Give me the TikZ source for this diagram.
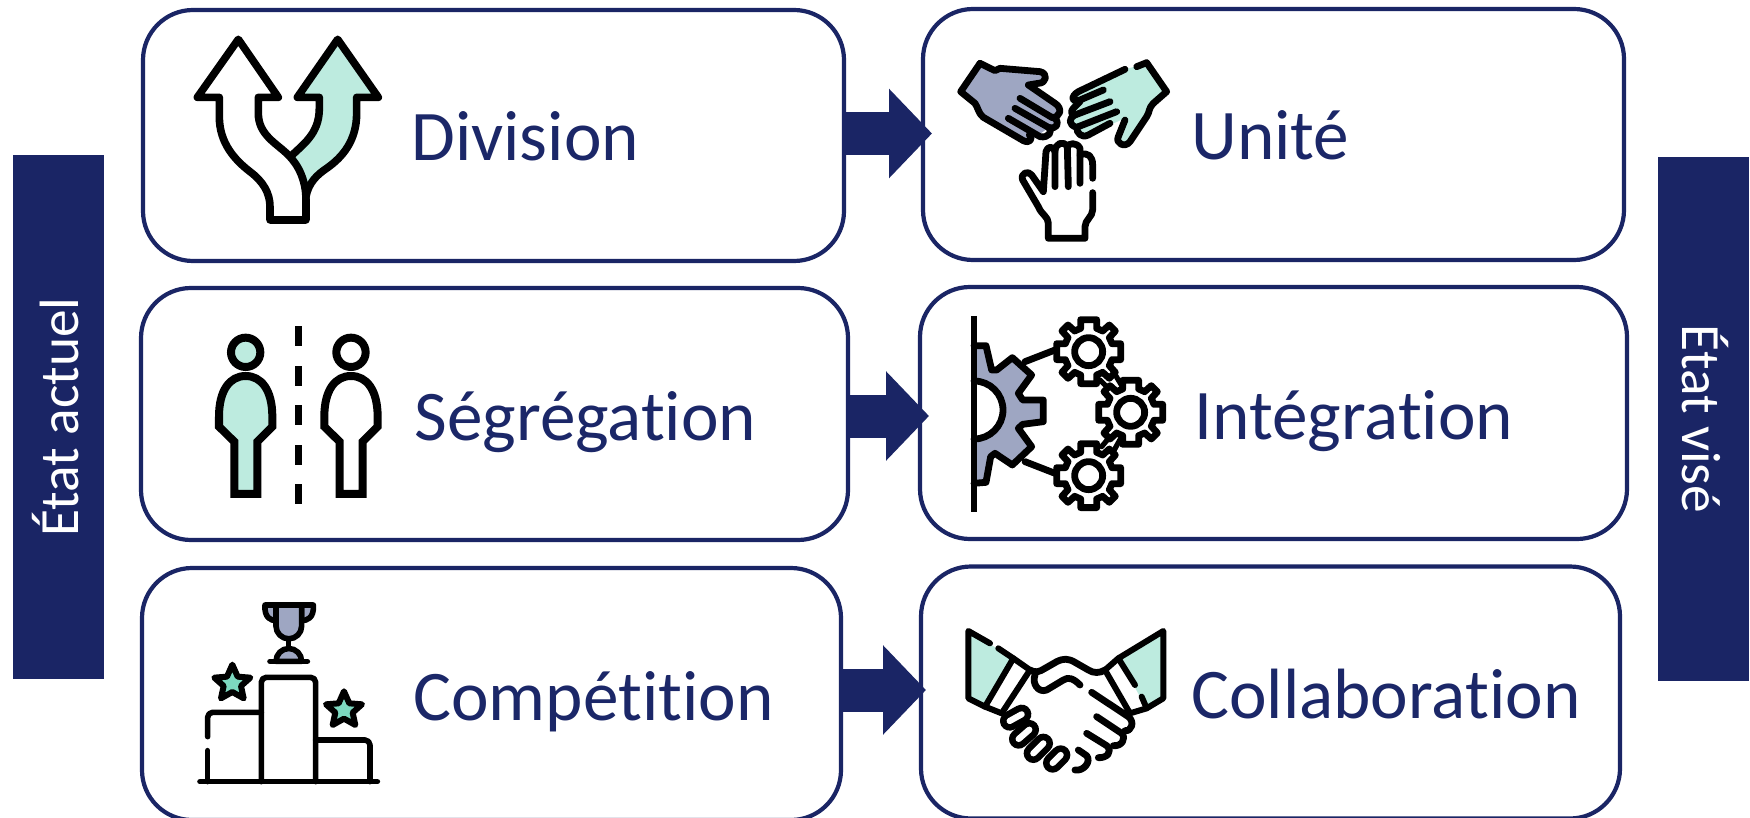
\documentclass[tikz,border=0pt]{standalone}
\usepackage{fontspec}
\setmainfont[Ligatures=NoCommon]{Carlito}
\usetikzlibrary{arrows.meta}
\definecolor{navy}{HTML}{1A2565}
\definecolor{edge}{HTML}{1A2565}
\definecolor{txt}{HTML}{1B2768}
\definecolor{mint}{HTML}{BDEBDF}
\definecolor{slate}{HTML}{9EA6C2}
\definecolor{starc}{HTML}{7DD8C0}
\tikzset{
  x=.5pt,y=-.5pt,
  box/.style={draw=edge,fill=white,line width=2.1pt,rounded corners=25pt,outer sep=0pt,inner sep=0pt},
  bar/.style={fill=navy,draw=none,outer sep=0pt,inner sep=0pt,minimum width=45.5pt,minimum height=262pt},
  lab/.style={anchor=base west,inner sep=0pt,text=txt,font=\fontsize{35.6}{36}\selectfont},
  barlab/.style={text=white,font=\fontsize{27.7}{28}\selectfont,inner sep=0pt},
  flow/.style={draw=navy,line width=21.5pt,-{Triangle[length=21.5pt,width=43.5pt,fill=navy]}},
  ic/.style={draw=black,line width=3.4pt,line join=round,line cap=round},
  gic/.style={draw=black,line width=4pt,line join=miter},
  bumpo/.style={draw=black,line width=9.7pt,line cap=round},
  bumpi/.style={draw=white,line width=3.1pt,line cap=round},
}
\begin{document}
\begin{tikzpicture}
\useasboundingbox (0,0) rectangle (1750,818);
\fill[white] (0,0) rectangle (1750,818);
\node[bar] (left) at (58.5,417) {};
\node[bar] (right) at (1703.5,419) {};
\node[barlab,rotate=90] (leftt) at (56,417) {État actuel};
\node[barlab,rotate=-90] (rightt) at (1705.5,419) {État visé};

\node[box,minimum width=350.5pt,minimum height=125.5pt] (b1) at (493.5,135.5) {};
\node[box,minimum width=353.5pt,minimum height=126pt] (b2) at (494.5,414) {};
\node[box,minimum width=349.5pt,minimum height=126pt] (b3) at (491.5,694) {};
\node[box,minimum width=350.5pt,minimum height=125.5pt] (r1) at (1273.5,134.5) {};
\node[box,minimum width=353.5pt,minimum height=126pt] (r2) at (1273.5,413) {};
\node[box,minimum width=349.5pt,minimum height=126pt] (r3) at (1270.5,692.5) {};

\draw[flow] ([yshift=1pt]b1.east) -- ([xshift=4.5pt,yshift=.5pt]r1.west);
\draw[flow] ([yshift=-1pt]b2.east) -- ([xshift=4.5pt,yshift=-1.5pt]r2.west);
\draw[flow] ([yshift=2pt]b3.east) -- ([xshift=2.5pt,yshift=1.25pt]r3.west);

\node[lab] (t1) at (411,161) {Division};
\node[lab] (t2) at (414,440) {Ségrégation};
\node[lab] (t3) at (413,720) {Compétition};
\node[lab] (t4) at (1191,160) {Unité};
\node[lab] (t5) at (1194,439) {Intégration};
\node[lab] (t6) at (1191,718) {Collaboration};

% --- split arrows
\begin{scope}[shift={(170,20)},scale=.3333]
\draw[ic,line width=3.8pt,fill=mint] (503,58) -- (382,232) -- (448,232) -- (448,265) .. controls (448,345) and (395,375) .. (360,412) -- (408,530) .. controls (415,490) and (440,465) .. (470,445) .. controls (520,410) and (560,360) .. (560,280) -- (560,232) -- (625,232) -- cycle;
\draw[ic,line width=3.8pt,fill=white] (205,58) -- (82,232) -- (148,232) -- (148,290) .. controls (148,370) and (195,420) .. (240,455) .. controls (280,485) and (300,520) .. (300,560) -- (300,600) -- (408,600) -- (408,540) .. controls (408,480) and (385,435) .. (355,405) .. controls (320,370) and (265,345) .. (265,280) -- (265,232) -- (325,232) -- cycle;
\end{scope}

% --- hands
\begin{scope}[shift={(940,40)},scale=.3333]
\fill[slate] (120,70) -- (62,155) -- (105,190) -- (125,230) -- (262,308) -- (345,250) -- (360,215) -- (270,135) -- (310,120) -- (310,95) -- (175,85) -- cycle;
\draw[ic] (120,70) -- (62,155) -- (105,190) .. controls (115,205) and (115,220) .. (130,232) -- (250,302) .. controls (270,312) and (280,295) .. (268,285);
\draw[ic] (120,70) -- (165,92) -- (180,85) -- (300,95) .. controls (325,100) and (320,130) .. (295,130) -- (265,135) -- (345,190) .. controls (370,205) and (360,235) .. (335,232);
\draw[ic] (240,175) -- (335,232) -- (345,235) .. controls (360,250) and (350,270) .. (325,262) -- (225,205);
\draw[ic] (325,262) .. controls (340,275) and (325,295) .. (300,290) -- (205,235);
\fill[mint] (620,70) -- (680,155) -- (640,190) -- (622,225) -- (555,310) -- (530,295) -- (555,235) -- (430,290) -- (395,250) -- (395,170) -- (555,88) -- cycle;
\draw[ic] (590,80) -- (620,68) -- (680,155) -- (640,190) .. controls (625,205) and (630,215) .. (620,230) -- (570,305) .. controls (555,325) and (525,310) .. (535,290) -- (555,240);
\draw[ic] (555,88) -- (415,155) .. controls (390,170) and (395,190) .. (420,180) -- (490,150);
\draw[ic] (510,185) -- (405,225) .. controls (385,235) and (385,255) .. (410,262) -- (530,215);
\draw[ic] (420,185) -- (400,205) .. controls (390,215) and (395,225) .. (405,225);
\draw[ic] (410,262) .. controls (410,280) and (425,295) .. (445,285) -- (510,250);
\draw[ic] (345,440) -- (345,335) .. controls (345,310) and (370,300) .. (382,320) -- (385,440);
\draw[ic] (420,430) -- (420,325) .. controls (410,305) and (385,310) .. (382,320);
\draw[ic] (420,345) .. controls (445,335) and (458,350) .. (458,375) -- (458,415);
\draw[ic] (458,458) -- (458,510) .. controls (458,530) and (435,540) .. (435,560) -- (435,595) -- (325,595) -- (325,550) .. controls (325,530) and (305,525) .. (295,500) -- (248,420) .. controls (240,400) and (265,390) .. (275,405) -- (310,455) -- (318,335) .. controls (322,320) and (338,315) .. (345,335);
\end{scope}

% --- segregation
\begin{scope}[shift={(190,310)},scale=.3333]
\draw[gic,fill=mint] (167,127) circle (44);
\draw[gic,fill=mint] (133,552) -- (133,395) -- (87,350) -- (87,320) .. controls (87,240) and (120,198) .. (167,198) .. controls (214,198) and (247,240) .. (247,320) -- (247,350) -- (202,395) -- (202,552) -- cycle;
\draw[gic] (483,127) circle (44);
\draw[gic] (449,552) -- (449,395) -- (403,350) -- (403,320) .. controls (403,240) and (436,198) .. (483,198) .. controls (530,198) and (563,240) .. (563,320) -- (563,350) -- (518,395) -- (518,552) -- cycle;
\foreach \ya/\yb in {48/108,167/227,286/346,405/465,523/583}
  \fill[black] (314,\ya) rectangle (337,\yb);
\end{scope}

% --- gears
\begin{scope}[shift={(950,305)},scale=.3333]
\draw[ic] (225,170) -- (315,135);
\draw[ic] (225,470) -- (315,505);
\draw[ic,line width=2.6pt] (450,225) -- (480,255);
\draw[ic,line width=2.6pt] (490,200) -- (520,250);
\draw[ic,line width=2.6pt] (455,425) -- (480,395);
\draw[ic,line width=2.6pt] (490,440) -- (515,395);
\draw[ic,fill=slate] (72,122) -- (108,122) -- (125,195) -- (140,195) -- (187,158) -- (245,210) -- (205,265) -- (218,285) -- (280,285) -- (280,350) -- (218,358) -- (205,370) -- (245,425) -- (187,480) -- (135,445) -- (122,455) -- (108,532) -- (72,535);
\draw[ic,fill=white] (72,228) arc[start angle=-90,end angle=90,radius=87];
\foreach \cx/\cy in {416/140,542/322,416/512}{
  \draw[ic,fill=white]
     (\cx+24,\cy-96) -- (\cx+24,\cy-70) -- (\cx+42,\cy-62) -- (\cx+62,\cy-80) -- (\cx+80,\cy-62) -- (\cx+62,\cy-42) -- (\cx+70,\cy-24) -- (\cx+96,\cy-24) -- (\cx+96,\cy+24) -- (\cx+70,\cy+24) -- (\cx+62,\cy+42) -- (\cx+80,\cy+62) -- (\cx+62,\cy+80) -- (\cx+42,\cy+62) -- (\cx+24,\cy+70) -- (\cx+24,\cy+96) -- (\cx-24,\cy+96) -- (\cx-24,\cy+70) -- (\cx-42,\cy+62) -- (\cx-62,\cy+80) -- (\cx-80,\cy+62) -- (\cx-62,\cy+42) -- (\cx-70,\cy+24) -- (\cx-96,\cy+24) -- (\cx-96,\cy-24) -- (\cx-70,\cy-24) -- (\cx-62,\cy-42) -- (\cx-80,\cy-62) -- (\cx-62,\cy-80) -- (\cx-42,\cy-62) -- (\cx-24,\cy-70) -- (\cx-24,\cy-96) -- cycle;
  \draw[ic] (\cx,\cy) circle (42);
}
\draw[draw=black,line width=3.4pt] (72,33) -- (72,622);
\end{scope}

% --- podium
\begin{scope}[shift={(190,590)},scale=.3333]
\draw[ic,line width=2.8pt,fill=slate] (225,45) .. controls (222,85) and (245,92) .. (258,92) -- (258,45) -- cycle;
\draw[ic,line width=2.8pt,fill=slate] (370,45) .. controls (373,85) and (350,92) .. (335,92) -- (335,45) -- cycle;
\draw[ic,line width=2.8pt,fill=slate] (258,45) -- (258,108) arc[start angle=180,end angle=0,radius=38.5] -- (335,45) -- cycle;
\draw[ic,line width=2.8pt] (296,147) -- (296,178);
\draw[ic,line width=2.8pt,fill=slate] (258,214) arc[start angle=180,end angle=360,radius=38.5] -- cycle;
\draw[ic,line width=2.8pt] (240,214) -- (352,214);
\draw[ic,line width=2.8pt,rounded corners=2.5pt] (214,575) -- (214,262) -- (377,262) -- (377,575);
\draw[ic,line width=2.8pt,rounded corners=2.5pt] (53,440) -- (53,367) -- (214,367);
\draw[ic,line width=2.8pt] (53,482) -- (53,575);
\draw[ic,line width=2.8pt,rounded corners=2.5pt] (377,450) -- (540,450) -- (540,575);
\draw[ic,line width=2.8pt] (30,575) -- (562,575);
\foreach \sx/\sy in {127/280,462/360}{
  \draw[ic,line width=3pt,fill=starc] (\sx,\sy-56) -- (\sx+16,\sy-20) -- (\sx+54,\sy-17) -- (\sx+26,\sy+8) -- (\sx+34,\sy+45) -- (\sx,\sy+26) -- (\sx-34,\sy+45) -- (\sx-26,\sy+8) -- (\sx-54,\sy-17) -- (\sx-16,\sy-20) -- cycle;
}
\end{scope}

% --- handshake
\begin{scope}[shift={(950,615)},scale=.3333]
\fill[mint] (55,48) -- (190,130) -- (105,275) -- (55,250) -- cycle;
\fill[mint] (640,48) -- (505,130) -- (590,280) -- (640,250) -- cycle;
\draw[ic,line width=3pt] (120,85) -- (55,48) -- (55,250) -- (105,275) -- (190,130) -- (145,100);
\draw[ic,line width=3pt] (555,210) -- (505,130) -- (640,48) -- (640,250) -- (590,280) -- (575,245);
\draw[ic,line width=3pt] (190,130) -- (240,165) -- (155,295) -- (105,275);
\draw[ic,line width=3pt] (505,130) -- (465,165) -- (540,295) -- (590,280);
\draw[ic] (240,165) .. controls (255,175) and (270,170) .. (285,160) -- (320,140) .. controls (340,130) and (355,130) .. (375,142) -- (415,165) .. controls (430,175) and (450,175) .. (465,165);
\draw[ic] (255,180) .. controls (245,205) and (265,235) .. (290,225) -- (340,195) .. controls (355,185) and (370,190) .. (390,210);
\draw[ic] (425,232) -- (535,305) .. controls (555,320) and (545,350) .. (525,347);
\draw[ic] (440,305) -- (515,355) .. controls (530,370) and (515,395) .. (490,392);
\draw[ic] (410,355) -- (470,392) .. controls (490,410) and (470,430) .. (445,428);
\draw[ic] (385,405) -- (410,422) .. controls (425,440) and (400,470) .. (375,465);
\foreach \bx/\by/\hx/\hy in {320/432/12/12,265/400/15/15,222/358/16/14,197/308/18/10}{
  \draw[bumpo] (\bx-\hx,\by+\hy) -- (\bx+\hx,\by-\hy);
  \draw[bumpi] (\bx-\hx,\by+\hy) -- (\bx+\hx,\by-\hy);
}
\end{scope}
\end{tikzpicture}
\end{document}
